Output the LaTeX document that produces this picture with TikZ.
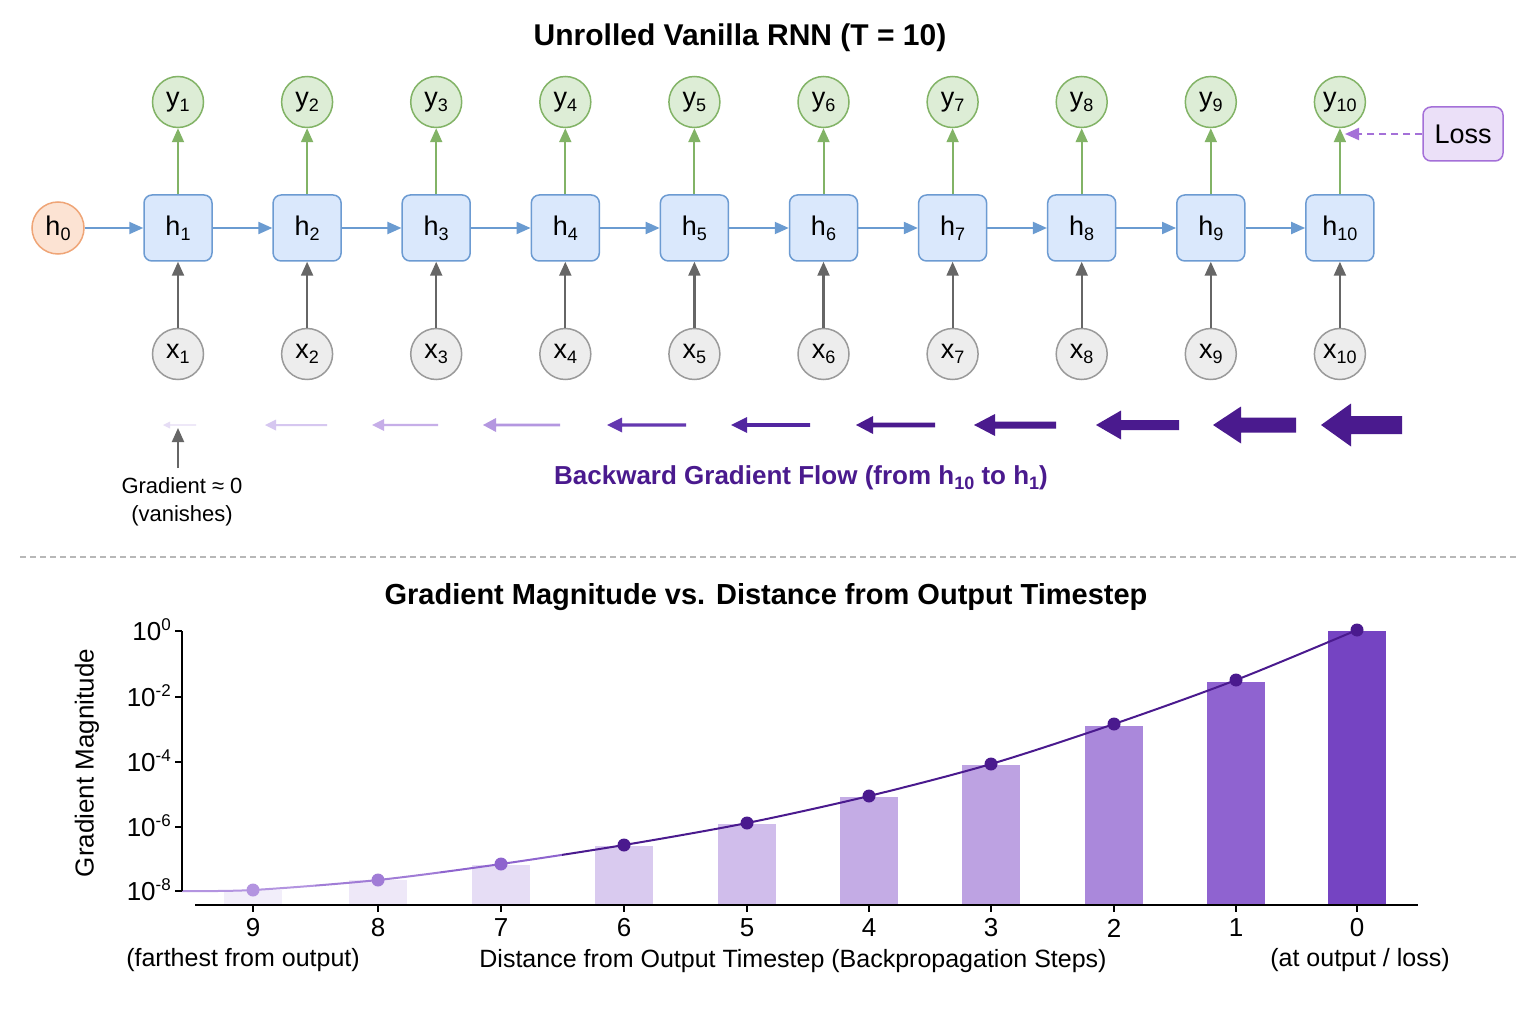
\documentclass[tikz,border=0pt]{standalone}
\usepackage{fontspec}
\setmainfont{Liberation Sans}
\usetikzlibrary{arrows.meta}
\definecolor{hfill}{HTML}{DAE8FC}
\definecolor{hdraw}{HTML}{6C9BD2}
\definecolor{harrow}{HTML}{6A9BD1}
\definecolor{yfill}{HTML}{DDEDD6}
\definecolor{ydraw}{HTML}{82B366}
\definecolor{xfill}{HTML}{EDEDED}
\definecolor{xdraw}{HTML}{9A9A9A}
\definecolor{xarrow}{HTML}{666666}
\definecolor{ofill}{HTML}{FCE3D3}
\definecolor{odraw}{HTML}{EFA577}
\definecolor{lfill}{HTML}{EBE0F8}
\definecolor{ldraw}{HTML}{A470D8}
\definecolor{indigo}{HTML}{4A1A8E}
\definecolor{ga1}{HTML}{E6DDF5}
\definecolor{ga2}{HTML}{D6C7F0}
\definecolor{ga3}{HTML}{C6AEE8}
\definecolor{ga4}{HTML}{B497E0}
\definecolor{ga5}{HTML}{6438B0}
\definecolor{ga6}{HTML}{5226A0}
\definecolor{b0}{HTML}{7544C2}
\definecolor{b1}{HTML}{8F63D0}
\definecolor{b2}{HTML}{AA88DB}
\definecolor{b3}{HTML}{BDA2E2}
\definecolor{b4}{HTML}{C4ACE5}
\definecolor{b5}{HTML}{D0BDEB}
\definecolor{b6}{HTML}{D9CAEF}
\definecolor{b7}{HTML}{E6DDF5}
\definecolor{b8}{HTML}{EEE8F8}
\definecolor{b9}{HTML}{F2EEFA}
\definecolor{c9}{HTML}{B394E0}
\definecolor{c8}{HTML}{A07CD6}
\definecolor{c7}{HTML}{8E64CE}
\newcommand\sbs[2][18]{\raisebox{-5pt}{\fontsize{#1}{#1}\selectfont #2}}
\newcommand\sps[1]{\raisebox{10pt}{\fontsize{17}{17}\selectfont #1}}
\newcommand\garrow[6]{\fill[#6] (#2,425) -- ({#2+#5},{425-#4}) -- ({#2+#5},{425-#3}) -- (#1,{425-#3}) -- (#1,{425+#3}) -- ({#2+#5},{425+#3}) -- ({#2+#5},{425+#4}) -- cycle;}
\begin{document}
\begin{tikzpicture}[x=1pt,y=-1pt,
  lbl/.style={font=\fontsize{27}{30}\selectfont},
  hbox/.style={lbl,rectangle,rounded corners=8pt,draw=hdraw,fill=hfill,line width=1.5pt,minimum width=68pt,minimum height=66pt,inner sep=0pt},
  ycirc/.style={lbl,circle,draw=ydraw,fill=yfill,line width=1.5pt,minimum size=51pt,inner sep=0pt},
  xcirc/.style={lbl,circle,draw=xdraw,fill=xfill,line width=1.5pt,minimum size=51pt,inner sep=0pt},
  ocirc/.style={lbl,circle,draw=odraw,fill=ofill,line width=1.5pt,minimum size=52pt,inner sep=0pt},
  lossbox/.style={lbl,rectangle,rounded corners=8pt,draw=ldraw,fill=lfill,line width=1.5pt,minimum width=80pt,minimum height=54pt},
  bluearr/.style={draw=harrow,line width=2pt,-{Triangle[length=14pt,width=12pt]}},
  greenarr/.style={draw=ydraw,line width=2pt,-{Triangle[length=14pt,width=12pt]}},
  grayarr/.style={draw=xarrow,line width=2.2pt,-{Triangle[length=14pt,width=12pt]}},
  lossarr/.style={draw=ldraw,line width=2pt,dash pattern=on 7pt off 5pt,-{Triangle[length=14pt,width=12pt]}},
  axisline/.style={line width=1.6pt,black},
  ticklbl/.style={font=\fontsize{26}{30}\selectfont},
  axlbl/.style={font=\fontsize{25}{30}\selectfont}
]
\useasboundingbox[fill=white] (0,0) rectangle (1536,1024);

% ---------- top: unrolled RNN ----------
\node[font=\bfseries\fontsize{30}{34}\selectfont] (title) at (740,38) {Unrolled Vanilla RNN (T = 10)};
\node[ocirc] (h0) at (58,228) {h\sbs{0}};
\foreach \i in {1,...,10} {
  \pgfmathsetmacro\xx{178+(\i-1)*129.1}
  \node[hbox] (h\i) at (\xx,228) {h\sbs{\i}};
  \node[ycirc] (y\i) at (\xx,102) {y\sbs{\i}};
  \node[xcirc] (x\i) at (\xx,354) {x\sbs{\i}};
  \draw[greenarr] (h\i.north) -- (y\i.south);
  \draw[grayarr] (x\i.north) -- (h\i.south);
}
\draw[bluearr] (h0.east) -- (h1.west);
\foreach \i in {1,...,9} {
  \pgfmathtruncatemacro\j{\i+1}
  \draw[bluearr] (h\i.east) -- (h\j.west);
}
\node[lossbox] (loss) at (1463,134) {Loss};
\coordinate (lt) at (1345,134);
\draw[lossarr] (loss.west) -- (lt);

% ---------- backward gradient arrows ----------
\garrow{196}{163}{0.7}{3.5}{7}{ga1}
\garrow{327}{265}{1}{5.5}{11}{ga2}
\garrow{438}{372}{1.1}{6}{12}{ga3}
\garrow{560}{483}{1.3}{7}{13}{ga4}
\garrow{686}{607}{1.6}{7.5}{15}{ga5}
\garrow{810}{731}{1.8}{8}{16}{ga6}
\garrow{935}{856}{2.3}{9}{17}{indigo}
\garrow{1056}{974}{3.5}{11}{21}{indigo}
\garrow{1179}{1096}{5}{14.5}{25}{indigo}
\garrow{1296}{1213}{7.5}{18.5}{28}{indigo}
\garrow{1402}{1321}{9}{21.5}{30}{indigo}

\node[font=\fontsize{22}{28}\selectfont,align=center] (gz) at (182,502) {Gradient ≈ 0\\(vanishes)};
\coordinate (ga) at (178,468);
\coordinate (gb) at (178,428);
\draw[grayarr,line width=2pt] (ga) -- (gb);
\node[font=\bfseries\fontsize{26}{30}\selectfont,text=indigo] (bt) at (801,478) {Backward Gradient Flow (from h\sbs[18]{10} to h\sbs[18]{1})};

% ---------- separator ----------
\draw[draw=black!28,line width=1.5pt,dash pattern=on 6pt off 4pt] (20,557) -- (1516,557);

% ---------- chart ----------
\node[font=\bfseries\fontsize{29}{32}\selectfont] (ctitle) at (766,597) {Gradient Magnitude vs. Distance from Output Timestep};

\foreach \px/\py/\cc in {253/890/b9,378/880/b8,501/865/b7,624/846/b6,747/824/b5,869/797/b4,991/765/b3,1114/726/b2,1236/682/b1,1357/631/b0}
  \fill[color=\cc] ({\px-29},\py) rectangle ({\px+29},905);

\foreach \xa/\xb/\cc in {0/315/c9,315/440/c8,440/562/c7,562/1500/indigo} {
  \begin{scope}
    \clip (\xa,600) rectangle (\xb,915);
    \draw[color=\cc,line width=2pt] plot[smooth,tension=0.5] coordinates {(182,891) (253,890) (378,880) (501,864) (624,845) (747,823) (869,796) (991,764) (1114,724) (1236,680) (1357,630)};
  \end{scope}
}
\foreach \px/\py/\cc in {253/890/c9,378/880/c8,501/864/c7,624/845/indigo,747/823/indigo,869/796/indigo,991/764/indigo,1114/724/indigo,1236/680/indigo,1357/630/indigo}
  \fill[color=\cc] (\px,\py) circle (6.5);

\draw[axisline] (182,631) -- (182,891);
\foreach \yy/\e in {631/0,697/-2,762/-4,827/-6,891/-8} {
  \draw[axisline] (175,\yy) -- (182,\yy);
  \node[ticklbl,anchor=base east,inner sep=0pt] at (171,{\yy+9}) {10\sps{\e}};
}
\draw[axisline] (195,905) -- (1418,905);
\foreach \px/\d in {253/9,378/8,501/7,624/6,747/5,869/4,991/3,1114/2,1236/1,1357/0} {
  \draw[axisline] (\px,905) -- (\px,912);
  \node[ticklbl] at (\px,928) {\d};
}
\node[axlbl,font=\fontsize{26}{30}\selectfont,rotate=90] (ylab) at (87,763) {Gradient Magnitude};
\node[axlbl] (far) at (243,960) {(farthest from output)};
\node[axlbl] (xlab) at (793,961) {Distance from Output Timestep (Backpropagation Steps)};
\node[axlbl] (near) at (1360,960) {(at output / loss)};
\end{tikzpicture}
\end{document}
